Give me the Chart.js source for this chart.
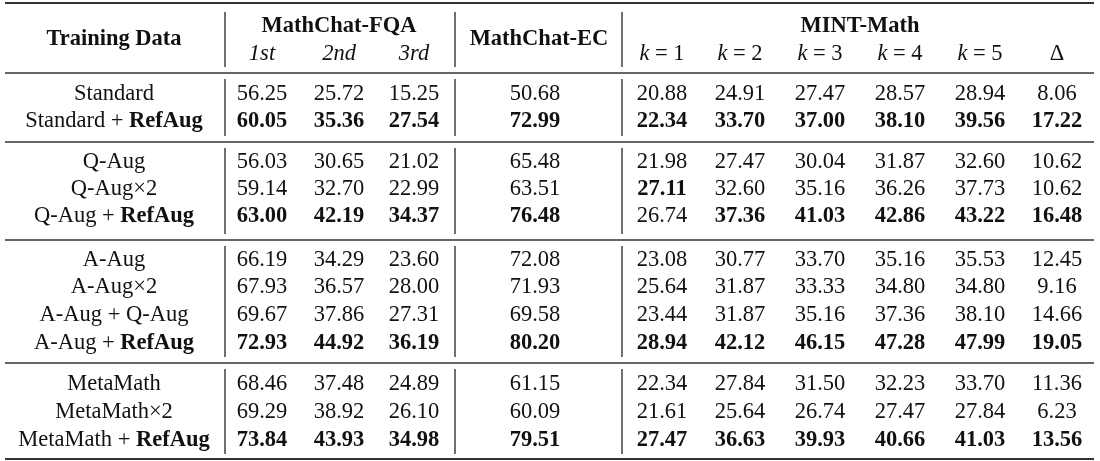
<!DOCTYPE html>
<html><head><meta charset="utf-8">
<script src="https://cdn.jsdelivr.net/npm/chart.js@4"></script>
<style>html,body{margin:0;padding:0;background:#fff}</style>
</head><body>
<canvas id="c" width="1100" height="461"></canvas>
<script>
// ---- data ----
const rowLabels = [
  ["Standard",""],["Standard + ","RefAug"],
  ["Q-Aug",""],["Q-Aug\u00d72",""],["Q-Aug + ","RefAug"],
  ["A-Aug",""],["A-Aug\u00d72",""],["A-Aug + Q-Aug",""],["A-Aug + ","RefAug"],
  ["MetaMath",""],["MetaMath\u00d72",""],["MetaMath + ","RefAug"]
];
const fqa1 = [56.25,60.05,56.03,59.14,63.00,66.19,67.93,69.67,72.93,68.46,69.29,73.84];
const fqa2 = [25.72,35.36,30.65,32.70,42.19,34.29,36.57,37.86,44.92,37.48,38.92,43.93];
const fqa3 = [15.25,27.54,21.02,22.99,34.37,23.60,28.00,27.31,36.19,24.89,26.10,34.98];
const ec   = [50.68,72.99,65.48,63.51,76.48,72.08,71.93,69.58,80.20,61.15,60.09,79.51];
const k1 = [20.88,22.34,21.98,27.11,26.74,23.08,25.64,23.44,28.94,22.34,21.61,27.47];
const k2 = [24.91,33.70,27.47,32.60,37.36,30.77,31.87,31.87,42.12,27.84,25.64,36.63];
const k3 = [27.47,37.00,30.04,35.16,41.03,33.70,33.33,35.16,46.15,31.50,26.74,39.93];
const k4 = [28.57,38.10,31.87,36.26,42.86,35.16,34.80,37.36,47.28,32.23,27.47,40.66];
const k5 = [28.94,39.56,32.60,37.73,43.22,35.53,34.80,38.10,47.99,33.70,27.84,41.03];
const delta = [8.06,17.22,10.62,10.62,16.48,12.45,9.16,14.66,19.05,11.36,6.23,13.56];
const columns = [fqa1,fqa2,fqa3,ec,k1,k2,k3,k4,k5,delta];
const boldRows = [1,4,8,11];
const boldExceptions = [[4,4]];
const boldExtras = [[3,4]];
const groupHeaders = ["Training Data","MathChat-FQA","MathChat-EC","MINT-Math"];
const subHeaders = ["1st","2nd","3rd"];
const kHeaders = ["1","2","3","4","5"];

// ---- layout ----
const colX = [262,339,414,535,662,740,820,900,980,1057];
const labelX = 114;
const rowY = [94,121, 162,189,216, 260,287,315,343, 384,412,440];
const hRules = [[3,2],[73,1.6],[142,1.3],[240,1.3],[363,1.3],[459,2]];
const vLines = [225,455,622];
const vSpans = [[12,67],[79,136],[148,234],[246,357],[369,454]];
const FS = 22.5, FF = '"Liberation Serif","DejaVu Serif",serif';

function isBold(r,c){
  if (boldExceptions.some(e=>e[0]===r&&e[1]===c)) return false;
  if (boldExtras.some(e=>e[0]===r&&e[1]===c)) return true;
  return boldRows.includes(r);
}
const datasets = columns.map((vals,c)=>({
  data: vals.map((v,r)=>({x:colX[c], y:rowY[r], v:v, b:isBold(r,c)})),
  pointRadius:0, showLine:false
}));
datasets.push({data: rowLabels.map((l,r)=>({x:labelX,y:rowY[r],lab:l})), pointRadius:0, showLine:false});

function drawParts(ctx, parts, cx, cy){
  let w=0;
  parts.forEach(p=>{ctx.font=p.f; w+=ctx.measureText(p.t).width;});
  let x=cx-w/2;
  parts.forEach(p=>{ctx.font=p.f; ctx.textAlign='left'; ctx.fillText(p.t,x,cy); x+=ctx.measureText(p.t).width;});
}
const N = FS+'px '+FF, B='bold '+FS+'px '+FF, I='italic '+FS+'px '+FF;

const tablePlugin = {
  id:'table',
  afterDatasetsDraw(chart){
    const ctx=chart.ctx, xs=chart.scales.x, ys=chart.scales.y;
    const px=v=>xs.getPixelForValue(v), py=v=>ys.getPixelForValue(v);
    ctx.save();
    ctx.fillStyle='#111'; ctx.strokeStyle='#333'; ctx.textBaseline='middle';
    hRules.forEach(([y,w])=>{ctx.lineWidth=w;ctx.beginPath();
      ctx.moveTo(px(5),py(y));ctx.lineTo(px(1094),py(y));ctx.stroke();});
    ctx.lineWidth=1.2; ctx.strokeStyle='#111';
    vLines.forEach(x=>vSpans.forEach(([a,b])=>{ctx.beginPath();
      ctx.moveTo(px(x),py(a));ctx.lineTo(px(x),py(b));ctx.stroke();}));
    drawParts(ctx,[{t:groupHeaders[0],f:B}],px(labelX),py(39));
    drawParts(ctx,[{t:groupHeaders[1],f:B}],px(339),py(26));
    drawParts(ctx,[{t:groupHeaders[2],f:B}],px(539),py(39));
    drawParts(ctx,[{t:groupHeaders[3],f:B}],px(860),py(26));
    subHeaders.forEach((s,i)=>drawParts(ctx,[{t:s,f:I}],px(colX[i]),py(54)));
    kHeaders.forEach((s,i)=>drawParts(ctx,[{t:'k',f:I},{t:' = '+s,f:N}],px(colX[4+i]),py(54)));
    drawParts(ctx,[{t:'\u0394',f:N}],px(colX[9]),py(54));
    chart.data.datasets.forEach((ds,di)=>{
      const meta=chart.getDatasetMeta(di);
      meta.data.forEach((el,i)=>{
        const d=ds.data[i];
        if (d.lab){
          const parts=[{t:d.lab[0],f:N}]; if(d.lab[1]) parts.push({t:d.lab[1],f:B});
          drawParts(ctx,parts,el.x,el.y);
        } else {
          drawParts(ctx,[{t:d.v.toFixed(2),f:d.b?B:N}],el.x,el.y);
        }
      });
    });
    ctx.restore();
  }
};

new Chart(document.getElementById('c'),{
  type:'scatter',
  data:{datasets},
  options:{
    responsive:false, animation:false, events:[],
    layout:{padding:0},
    plugins:{legend:{display:false},tooltip:{enabled:false}},
    scales:{
      x:{type:'linear',min:0,max:1100,display:false},
      y:{type:'linear',min:0,max:461,reverse:true,display:false}
    }
  },
  plugins:[tablePlugin]
});
</script>
</body></html>
